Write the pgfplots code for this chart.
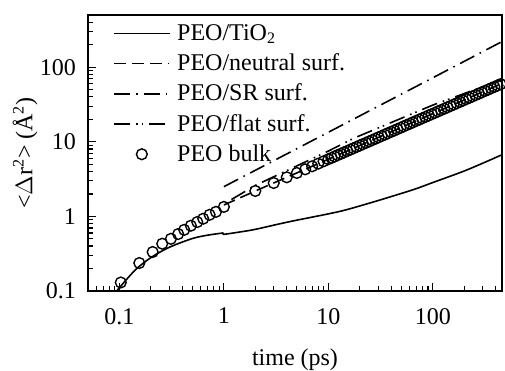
\documentclass[border=0pt]{standalone}
\usepackage{fontspec}
\setmainfont{Liberation Serif}
\usepackage{pgfplots}
\pgfplotsset{compat=1.18}
\begin{document}
\begin{tikzpicture}[font=\fontsize{12}{14}\selectfont]
\begin{axis}[
  name=ax,
  scale only axis,
  width=207pt, height=138pt,
  xmode=log, ymode=log,
  xmin=0.05, xmax=460,
  ymin=0.1, ymax=500,
  xtick={0.1,1,10,100},
  xticklabels={0.1,1,10,100},
  minor xtick={0.06,0.07,0.08,0.09,0.2,0.3,0.4,0.5,0.6,0.7,0.8,0.9,2,3,4,5,6,7,8,9,20,30,40,50,60,70,80,90,200,300,400},
  ytick={0.1,1,10,100},
  yticklabels={0.1,1,10,100},
  minor ytick={0.2,0.3,0.4,0.5,0.6,0.7,0.8,0.9,2,3,4,5,6,7,8,9,20,30,40,50,60,70,80,90,200,300,400,500},
  tick pos=left,
  tick align=inside,
  axis line style={line width=0.9pt},
  major tick length=4pt,
  minor tick length=2.4pt,
  every tick/.style={black, line width=0.6pt},
  xticklabel style={yshift=-5pt},
  yticklabel style={xshift=-2.5pt},
  xlabel={time (ps)},
  ylabel={\textless$\Delta$r\textsuperscript{2}\textgreater{} (Å\textsuperscript{2})},
  xlabel style={at={(axis description cs:0.5,-0.25)}, anchor=center},
  ylabel style={at={(axis description cs:-0.152,0.5)}, anchor=center},
  legend style={draw=none, fill=none, at={(axis description cs:0.046,0.997)}, anchor=north west,
    row sep=1.2pt, column sep=1.5pt, legend cell align=left},
  legend image code/.code={\draw[mark repeat=2,mark phase=2,#1] plot coordinates {(0cm,0cm) (0.485cm,0cm) (0.97cm,0cm)};},
]
% PEO/TiO2
\addplot[black, line width=0.8pt, smooth] coordinates {
(0.094,0.1) (0.141,0.19) (0.2,0.28) (0.3,0.385) (0.5,0.505) (0.7,0.56) (0.99,0.60)
};
\addlegendentry{PEO/TiO\textsubscript{2}}
% PEO/neutral surf.
\addplot[black, line width=0.8pt, dash pattern=on 6pt off 3pt] coordinates {
(1,1.42) (2,2.19) (10,5.83) (100,23.8) (460,60.5)
};
\addlegendentry{PEO/neutral surf.}
% PEO/SR surf.
\addplot[black, line width=0.8pt, dash pattern=on 8pt off 3pt on 0.8pt off 3pt] coordinates {
(1,2.5) (10,13.4) (100,72) (460,220)
};
\addlegendentry{PEO/SR surf.}
% PEO/flat surf.
\addplot[black, line width=0.8pt, dash pattern=on 8pt off 3pt on 0.8pt off 2pt on 0.8pt off 3pt] coordinates {
(1.18,1.68) (2,2.6) (10,7.5) (17.4,11.1) (100,31) (460,68)
};
\addlegendentry{PEO/flat surf.}
% PEO bulk
\addplot[black, only marks, mark=o, mark size=2.7pt, line width=0.7pt] coordinates {
(0.103,0.13) (0.155,0.237) (0.208,0.333) (0.257,0.43) (0.311,0.50) (0.365,0.58)
(0.417,0.66) (0.483,0.75) (0.556,0.84) (0.634,0.93) (0.73,1.05) (0.84,1.15) (1.0,1.34)
(2,2.19) (3,2.80) (4,3.34) (5,3.82) (6,4.27) (7,4.69) (8,5.09) (9,5.47)
(10.00,5.834) (10.72,6.085) (11.48,6.347) (12.30,6.621) (13.18,6.906) (14.13,7.204)
(15.14,7.514) (16.22,7.838) (17.38,8.176) (18.62,8.528) (19.95,8.895) (21.38,9.278)
(22.91,9.674) (24.55,10.09) (26.30,10.52) (28.18,10.98) (30.20,11.45) (32.36,11.94)
(34.67,12.46) (37.15,12.99) (39.81,13.55) (42.66,14.14) (45.71,14.75) (48.98,15.38)
(52.48,16.04) (56.23,16.73) (60.26,17.45) (64.57,18.20) (69.18,18.99) (74.13,19.81)
(79.43,20.65) (85.11,21.54) (91.20,22.47) (97.72,23.44) (104.7,24.45) (112.2,25.50)
(120.2,26.60) (128.8,27.74) (138.0,28.93) (147.9,30.18) (158.5,31.48) (169.8,32.83)
(182.0,34.24) (195.0,35.72) (208.9,37.25) (223.9,38.86) (239.9,40.53) (257.0,42.27)
(275.4,44.09) (295.1,45.99) (316.2,47.97) (338.8,50.03) (363.1,52.19) (389.0,54.43)
(416.9,56.77) (446.7,59.22)
};
\addlegendentry{PEO bulk}
% PEO/TiO2 continued after the kink at 1 ps
\addplot[black, line width=0.8pt, smooth, forget plot] coordinates {
(0.99,0.60) (1.0,0.575) (1.5,0.625) (2,0.67) (3.5,0.80) (5,0.89) (10,1.08) (15,1.23)
(30,1.63) (65,2.28) (100,2.84) (195,4.0) (300,5.15) (460,6.7)
};
\end{axis}
\pgfresetboundingbox
\path[use as bounding box] ([shift={(-44pt,-40pt)}]ax.south west) rectangle ([shift={(1.5pt,7.5pt)}]ax.north east);
\end{tikzpicture}
\end{document}
